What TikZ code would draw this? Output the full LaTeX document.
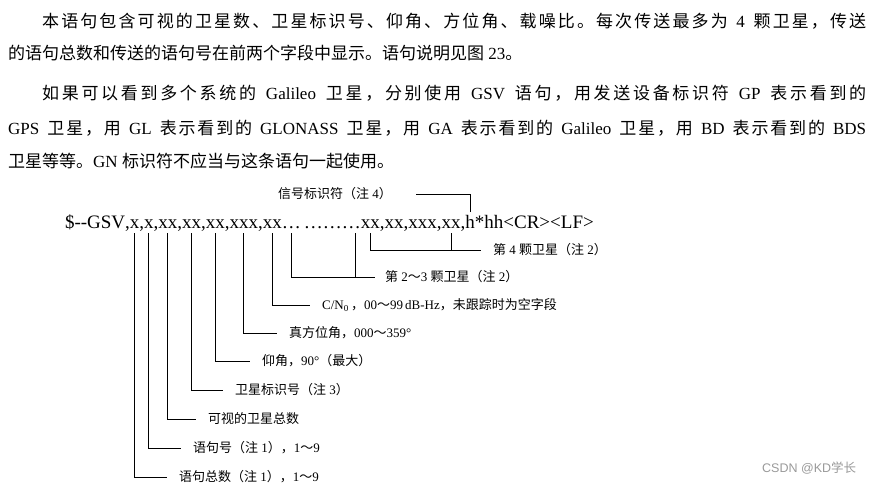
\documentclass[tikz,border=0pt]{standalone}
\usepackage{fontspec}
\setmainfont{Liberation Serif}
\setsansfont{Liberation Sans}
\newfontfamily\cjk{Noto Sans CJK SC}
% chinese characters go to the cjk font, the rest stays in times
\XeTeXinterchartokenstate=1
\newXeTeXintercharclass\cjkclass
\newcount\cjkcode
\newcommand\setcjkrange[2]{\cjkcode=#1\relax
  \loop\XeTeXcharclass\cjkcode=\cjkclass\advance\cjkcode by 1
  \ifnum\cjkcode<#2\relax\repeat}
\setcjkrange{"4E00}{"A000}
\setcjkrange{"3000}{"3040}
\setcjkrange{"FF00}{"FFF0}
\XeTeXinterchartoks 0 \cjkclass = {\cjk}
\XeTeXinterchartoks 4095 \cjkclass = {\cjk}
\XeTeXinterchartoks \cjkclass 0 = {\rmfamily}
\XeTeXinterchartoks \cjkclass 4095 = {\rmfamily}
\XeTeXinterchartoks \cjkclass \cjkclass = {\hskip 0pt plus 1pt\relax}
\newcommand\codefont{\fontsize{19}{22}\selectfont}
\newcommand\labfont{\fontsize{13}{15}\selectfont}
\newcommand\parafont{\fontsize{17}{20}\selectfont}
\tikzset{
  code/.style={font=\codefont, inner sep=0pt, outer sep=0pt, anchor=base west,
    text height=16pt, text depth=5pt},
  lab/.style={font=\labfont, inner sep=0pt, anchor=west},
  para/.style={font=\parafont, inner sep=0pt, anchor=west},
  conn/.style={line width=0.9pt},
}
\begin{document}
\begin{tikzpicture}[x=1pt,y=-1pt]
	\useasboundingbox (0,0) rectangle (870,485);
	% text above
	\node[para] (l1) at (42,21) {\makebox[824pt][s]{本语句包含可视的卫星数、卫星标识号、仰角、方位角、载噪比。每次传送最多为 4 颗卫星，传送}};
	\node[para] (l2) at (8,53) {的语句总数和传送的语句号在前两个字段中显示。语句说明见图 23。};
	\node[para] (l3) at (42,93) {\makebox[824pt][s]{如果可以看到多个系统的 Galileo 卫星，分别使用 GSV 语句，用发送设备标识符 GP 表示看到的}};
	\node[para] (l4) at (8,128) {\makebox[858pt][s]{GPS 卫星，用 GL 表示看到的 GLONASS 卫星，用 GA 表示看到的 Galileo 卫星，用 BD 表示看到的 BDS}};
	\node[para] (l5) at (8,161) {卫星等等。GN 标识符不应当与这条语句一起使用。};
	% the sentence
	\node[code] (f0) at (65,228) {\$-{}-GSV};
	\foreach \txt [count=\i, remember=\i as \j (initially 0)] in {x,x,xx,xx,xx,xxx,xx} {
		\node[code] (c\i) at (f\j.base east) {,};
		\node[code] (f\i) at (c\i.base east) {\txt};
	}
	\node[code] (d1) at (f7.base east) {…};
	\node[code] (d2) at ([xshift=3pt]d1.base east) {……};
	\node[code] (e0) at (d2.base east) {…};
	\foreach \txt [count=\i, remember=\i as \j (initially 0)] in {xx,xx,xxx,xx} {
		\node[code] (g\i) at (e\j.base east) {\txt};
		\node[code] (e\i) at (g\i.base east) {,};
	}
	\node[code] (hh) at (e4.base east) {h};
	\node[code] (tail) at (hh.base east) {*hh<CR><LF>};
	% labels
	\node[lab] (sig) at (278,194) {信号标识符（注 4）};
	\node[lab] (four) at (493,250) {第 4 颗卫星（注 2）};
	\node[lab] (two) at (385,277) {第 2～3 颗卫星（注 2）};
	\node[lab] (cn) at (322,305) {C/N\textsubscript{0}\,，00～99\,dB-Hz，未跟踪时为空字段};
	\node[lab] (az) at (289,333) {真方位角，000～359°};
	\node[lab] (el) at (262,361) {仰角，90°（最大）};
	\node[lab] (id) at (235,390) {卫星标识号（注 3）};
	\node[lab] (view) at (208,419) {可视的卫星总数};
	\node[lab] (no) at (193,448) {语句号（注 1），1～9};
	\node[lab] (tot) at (179,477) {语句总数（注 1），1～9};
	% connectors
	\draw[conn] (hh.north) |- ([xshift=24pt]sig.east);
	\draw[conn] (g1.south) |- ([xshift=-12pt]four.west);
	\draw[conn] (g4.south) -- (g4.south |- four.west);
	\draw[conn] (d1.south) |- ([xshift=-10pt]two.west);
	\draw[conn] ([xshift=4pt]e0.south) -- ([xshift=4pt]e0.south |- two.west);
	\foreach \i/\tgt in {1/tot,2/no,3/view,4/id,5/el,6/az,7/cn}
		\draw[conn] (f\i.south) |- ([xshift=-12pt]\tgt.west);
	\node[font=\fontsize{12.5}{14}\selectfont\sffamily, text=black!40, anchor=west, inner sep=0pt] (mark) at (762,468) {CSDN @KD学长};
\end{tikzpicture}
\end{document}
